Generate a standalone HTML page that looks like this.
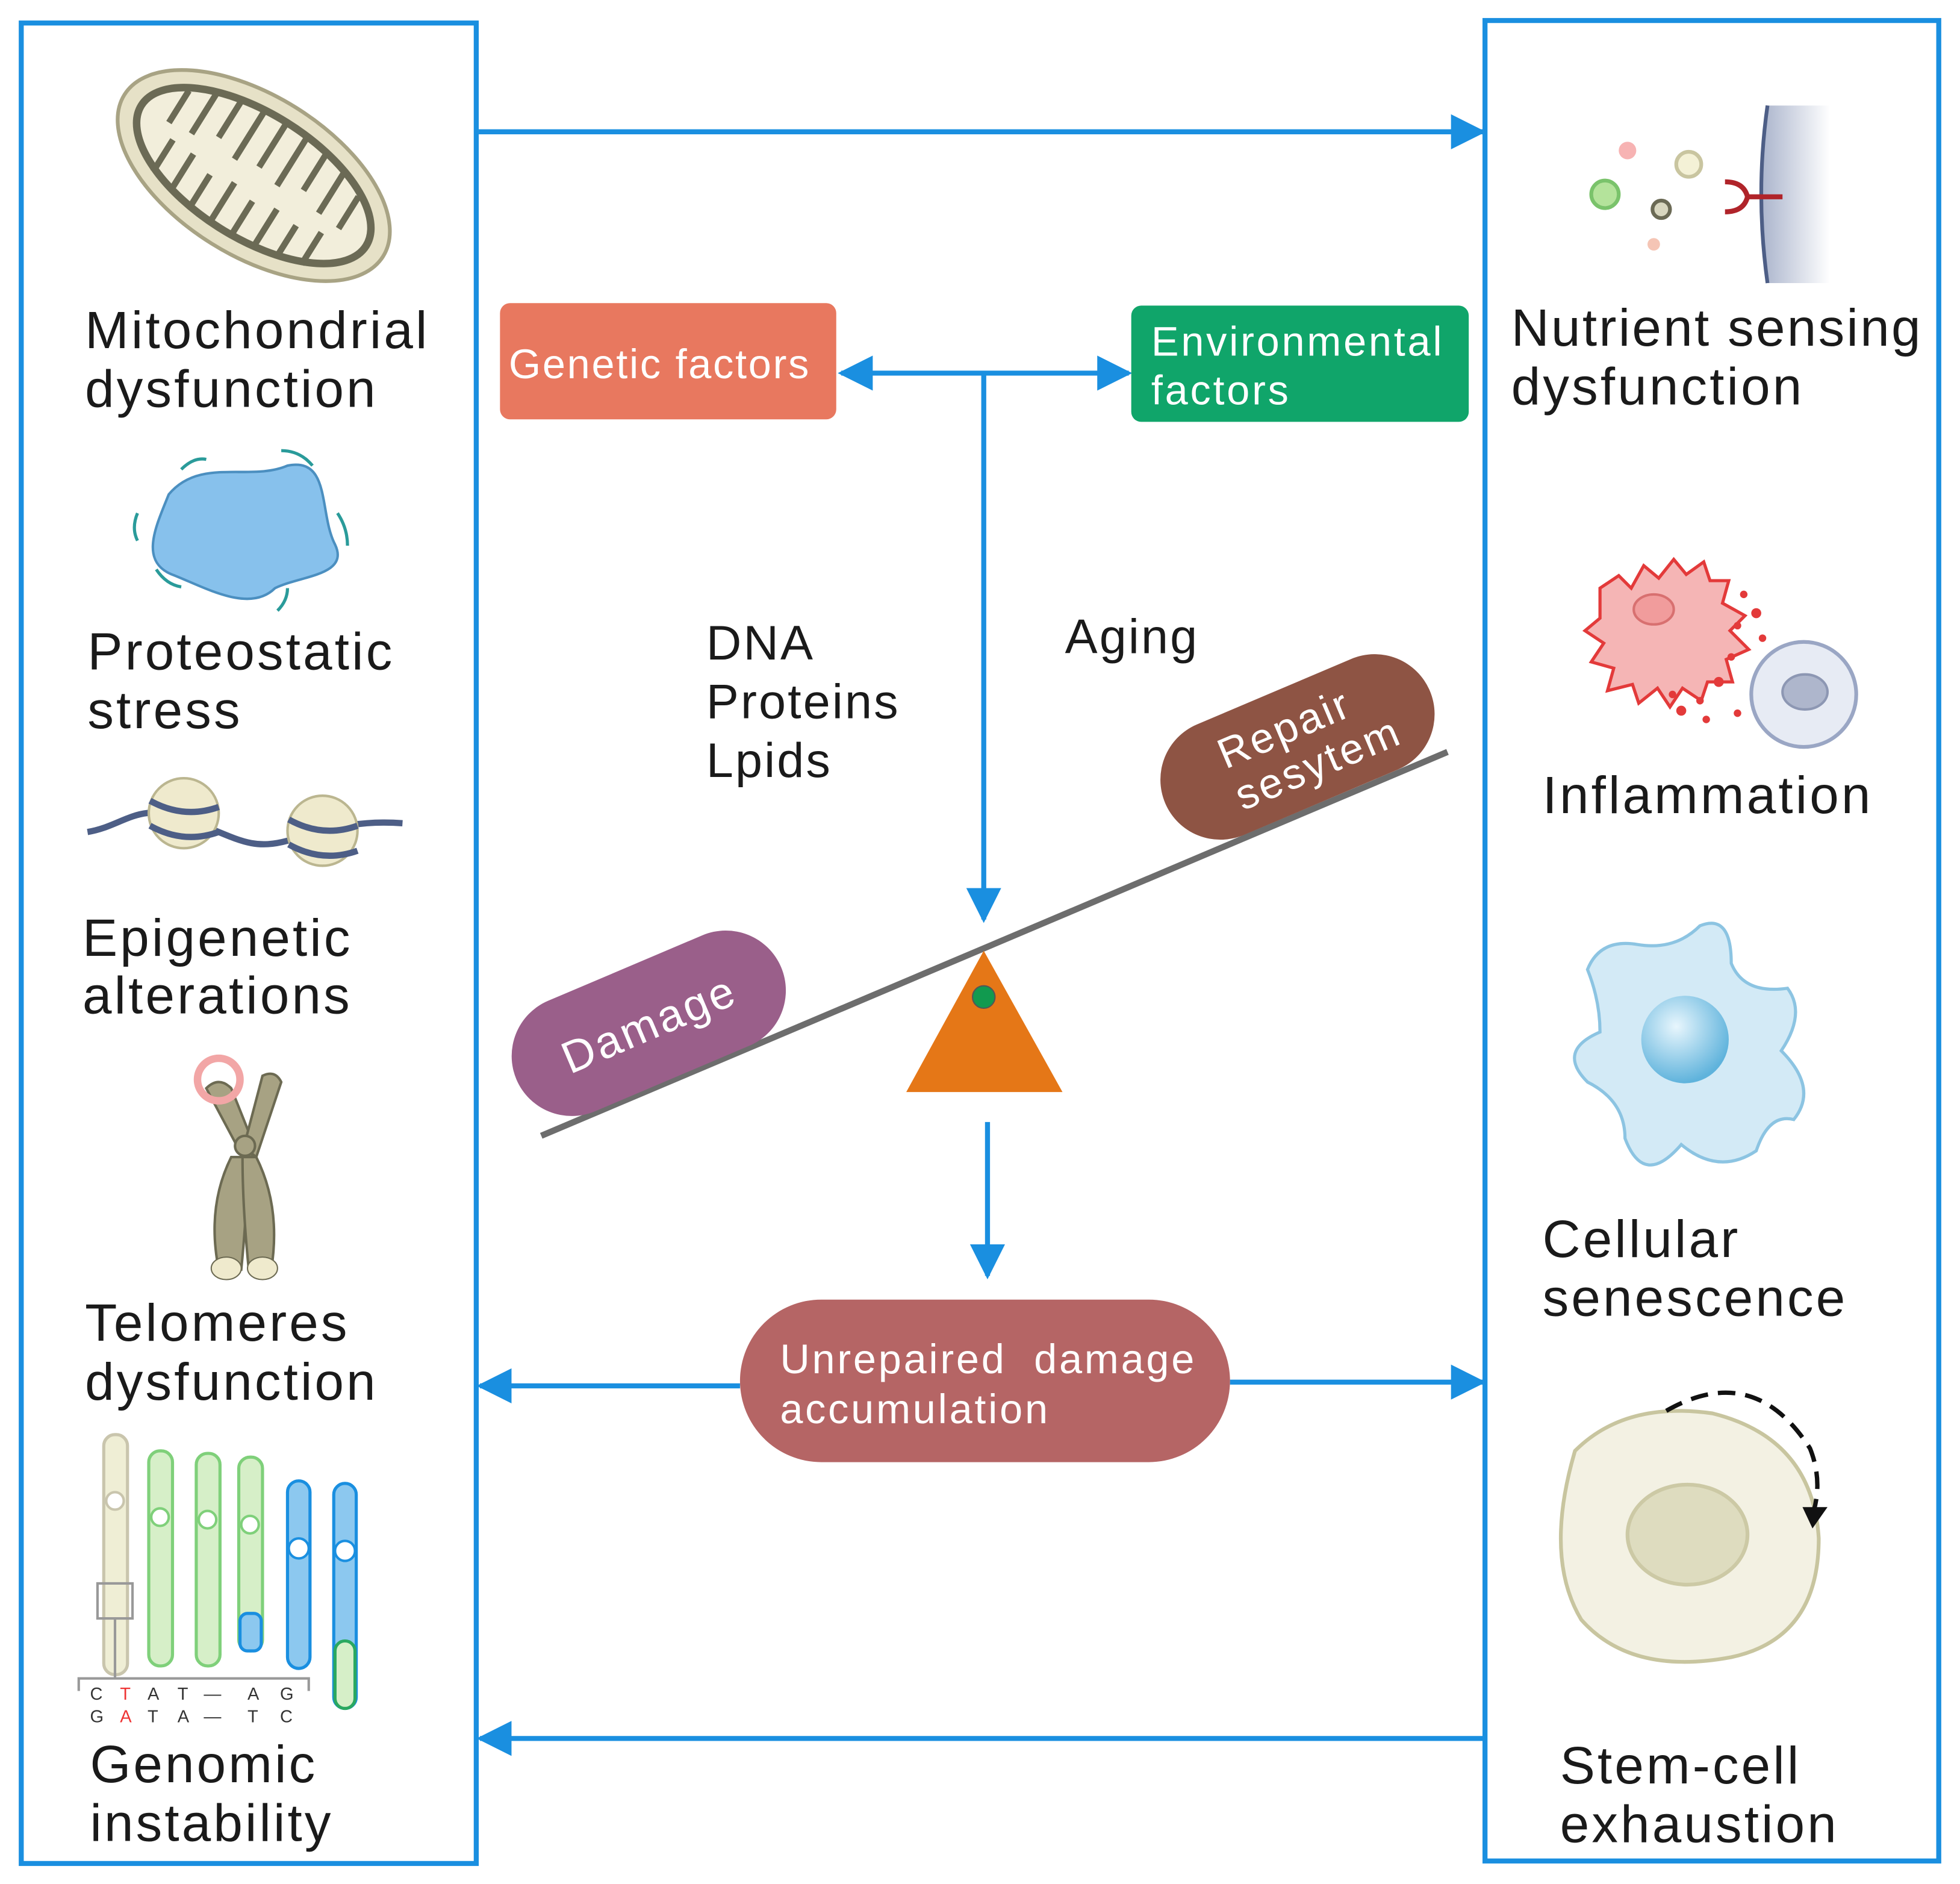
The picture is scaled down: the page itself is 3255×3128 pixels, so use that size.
<!DOCTYPE html>
<html><head><meta charset="utf-8"><style>
html,body{margin:0;padding:0;background:#fff;}
svg{display:block;}
text{font-family:"Liberation Sans",sans-serif;}
</style></head><body>
<svg width="3255" height="3128" viewBox="0 0 1568 1506" xmlns="http://www.w3.org/2000/svg">
<defs>
<marker id="ah" viewBox="0 0 10 10" refX="9" refY="5" markerWidth="7" markerHeight="7.5" markerUnits="strokeWidth" orient="auto-start-reverse"><path d="M0,0 L10,5 L0,10 z" fill="#1a8fe0"/></marker>
<radialGradient id="nuc" cx="40%" cy="35%" r="65%"><stop offset="0" stop-color="#e8f6fd"/><stop offset="1" stop-color="#5fb3dc"/></radialGradient>
<linearGradient id="mem" x1="0" x2="1"><stop offset="0" stop-color="#aab4cc"/><stop offset="1" stop-color="#fff"/></linearGradient>
</defs>
<rect x="0" y="0" width="1568" height="1506" fill="#fff"/>
<rect x="17" y="18" width="364" height="1472" fill="none" stroke="#1a8fe0" stroke-width="4"/>
<rect x="1188" y="16" width="363" height="1472" fill="none" stroke="#1a8fe0" stroke-width="4"/>
<g stroke="#1a8fe0" stroke-width="4" fill="none">
<line x1="383" y1="105" x2="1186" y2="105" marker-end="url(#ah)"/>
<line x1="673" y1="298" x2="903" y2="298" marker-start="url(#ah)" marker-end="url(#ah)"/>
<line x1="787" y1="298" x2="787" y2="735" marker-end="url(#ah)"/>
<line x1="790" y1="897" x2="790" y2="1020" marker-end="url(#ah)"/>
<line x1="592" y1="1108" x2="384" y2="1108" marker-end="url(#ah)"/>
<line x1="984" y1="1105" x2="1186" y2="1105" marker-end="url(#ah)"/>
<line x1="1188" y1="1390" x2="384" y2="1390" marker-end="url(#ah)"/>
</g>
<rect x="400" y="242" width="269" height="93" rx="8" fill="#e8785f"/>
<text x="407" y="302" font-size="33" fill="#fff" letter-spacing="1.3">Genetic factors</text>
<rect x="905" y="244" width="270" height="93" rx="8" fill="#10a56a"/>
<text x="921" y="284" font-size="33" fill="#fff" letter-spacing="1.8">Environmental</text>
<text x="921" y="323" font-size="33" fill="#fff" letter-spacing="1.8">factors</text>
<text font-size="39" fill="#1a1a1a" letter-spacing="1.5"><tspan x="565" y="527">DNA</tspan><tspan x="565" y="574">Proteins</tspan><tspan x="565" y="621">Lpids</tspan></text>
<text x="852" y="522" font-size="39" fill="#1a1a1a" letter-spacing="1.5">Aging</text>
<line x1="433" y1="908" x2="1158" y2="601" stroke="#6d6d6d" stroke-width="5"/>
<g transform="translate(519,818) rotate(-23)"><rect x="-115" y="-48" width="230" height="96" rx="48" fill="#9a5f8a"/><text x="0" y="13" font-size="36" fill="#fff" text-anchor="middle" letter-spacing="2">Damage</text></g>
<g transform="translate(1038,597) rotate(-23)"><rect x="-115" y="-48" width="230" height="96" rx="48" fill="#8e5444"/><text x="-4" y="-6" font-size="34" fill="#fff" text-anchor="middle" letter-spacing="2">Repair</text><text x="10" y="30" font-size="34" fill="#fff" text-anchor="middle" letter-spacing="2">sesytem</text></g>
<polygon points="787,760 725,873 850,873" fill="#e57717"/>
<circle cx="787" cy="797" r="9" fill="#119a4f" stroke="#555" stroke-width="1"/>
<rect x="592" y="1039" width="392" height="130" rx="65" fill="#b56565"/>
<text x="624" y="1098" font-size="33" fill="#fff" letter-spacing="1.8" xml:space="preserve">Unrepaired  damage</text>
<text x="624" y="1138" font-size="33" fill="#fff" letter-spacing="1.8">accumulation</text>
<g font-size="42" fill="#1a1a1a" letter-spacing="2">
<text x="68" y="278">Mitochondrial</text><text x="68" y="325">dysfunction</text>
<text x="70" y="535">Proteostatic</text><text x="70" y="582">stress</text>
<text x="66" y="764">Epigenetic</text><text x="66" y="810">alterations</text>
<text x="68" y="1072">Telomeres</text><text x="68" y="1119">dysfunction</text>
<text x="72" y="1425">Genomic</text><text x="72" y="1472">instability</text>
<text x="1209" y="276" letter-spacing="1.6">Nutrient sensing</text><text x="1209" y="323">dysfunction</text>
<text x="1234" y="650">Inflammation</text>
<text x="1234" y="1005">Cellular</text><text x="1234" y="1052">senescence</text>
<text x="1248" y="1426">Stem-cell</text><text x="1248" y="1473">exhaustion</text>
</g>
<g transform="translate(203,140) rotate(32)">
<ellipse rx="122" ry="64" fill="#e6e1c7" stroke="#a8a384" stroke-width="3"/>
<ellipse rx="106" ry="50" fill="#f2eedb" stroke="#6b6a55" stroke-width="6"/>
<g stroke="#6b6a55" stroke-width="5" fill="none">
<path d="M-80,-30 v30 M-60,-42 v40 M-40,-46 v35 M-20,-48 v45 M0,-48 v40 M20,-48 v45 M40,-46 v35 M60,-42 v40 M80,-30 v30"/>
<path d="M-70,40 v-30 M-50,46 v-35 M-30,48 v-30 M-10,48 v-35 M10,48 v-30 M30,48 v-35 M50,46 v-30 M70,40 v-30"/>
</g></g>
<path d="M135,395 C160,365 200,385 230,372 C265,365 255,410 268,435 C280,460 240,460 220,470 C200,490 165,470 140,460 C110,450 125,420 135,395 z" fill="#87c1ec" stroke="#4b8fc0" stroke-width="2"/>
<g stroke="#2a9b9a" stroke-width="2.5" fill="none"><path d="M145,375 q10,-10 20,-8"/><path d="M225,360 q15,0 25,12"/><path d="M270,410 q8,12 8,26"/><path d="M110,410 q-5,12 0,22"/><path d="M125,455 q8,12 20,14"/><path d="M230,470 q0,10 -8,18"/></g>
<path d="M70,665 C100,660 110,640 150,655 C190,670 200,680 230,672 C260,665 280,655 322,658" stroke="#4d5e86" stroke-width="5" fill="none"/>
<circle cx="147" cy="650" r="28" fill="#efeacd" stroke="#bbb690" stroke-width="2"/>
<circle cx="258" cy="664" r="28" fill="#efeacd" stroke="#bbb690" stroke-width="2"/>
<g stroke="#4d5e86" stroke-width="5" fill="none"><path d="M120,640 q27,15 55,5"/><path d="M120,660 q27,15 55,5"/><path d="M231,655 q27,15 55,5"/><path d="M231,675 q27,15 55,5"/></g>
<g fill="#a7a283" stroke="#6c6a52" stroke-width="2">
<path d="M165,870 q10,-10 20,0 l20,50 -8,10 z"/><path d="M210,860 q10,-5 15,5 l-20,60 -10,-8 z"/>
<path d="M185,925 q-20,40 -10,90 h18 q5,-50 5,-90 z"/><path d="M205,925 q20,40 12,90 h-18 q-5,-50 -5,-90 z"/>
<circle cx="196" cy="916" r="8"/>
</g>
<ellipse cx="181" cy="1014" rx="12" ry="9" fill="#efeacd" stroke="#6c6a52"/><ellipse cx="210" cy="1014" rx="12" ry="9" fill="#efeacd" stroke="#6c6a52"/>
<circle cx="175" cy="863" r="17" fill="none" stroke="#f2a6a6" stroke-width="6"/>
<g stroke-width="2.5">
<rect x="83" y="1147" width="19" height="192" rx="9" fill="#efeed5" stroke="#c9c5ad"/>
<rect x="119" y="1160" width="19" height="172" rx="9" fill="#d6efc8" stroke="#7fd07a"/>
<rect x="157" y="1162" width="19" height="170" rx="9" fill="#d6efc8" stroke="#7fd07a"/>
<rect x="191" y="1165" width="19" height="155" rx="9" fill="#d6efc8" stroke="#7fd07a"/>
<rect x="192" y="1290" width="17" height="30" rx="6" fill="#8cc8ef" stroke="#1a8fe0"/>
<rect x="230" y="1184" width="18" height="150" rx="9" fill="#8cc8ef" stroke="#1a8fe0"/>
<rect x="267" y="1186" width="18" height="180" rx="9" fill="#8cc8ef" stroke="#1a8fe0"/>
<rect x="268" y="1312" width="16" height="54" rx="8" fill="#d6efc8" stroke="#2aa860"/>
</g>
<g fill="#fff" stroke-width="2"><circle cx="92" cy="1200" r="7" stroke="#c9c5ad"/><circle cx="128" cy="1213" r="7" stroke="#7fd07a"/><circle cx="166" cy="1215" r="7" stroke="#7fd07a"/><circle cx="200" cy="1219" r="7" stroke="#7fd07a"/><circle cx="239" cy="1238" r="8" stroke="#1a8fe0"/><circle cx="276" cy="1240" r="8" stroke="#1a8fe0"/></g>
<rect x="78" y="1266" width="28" height="28" fill="none" stroke="#999" stroke-width="2"/>
<path d="M92,1294 v48 M63,1352 v-10 h184 v10" stroke="#999" stroke-width="2" fill="none"/>
<g font-size="14" fill="#333"><text x="72" y="1359">C</text><text x="96" y="1359" fill="#e33">T</text><text x="118" y="1359">A</text><text x="142" y="1359">T</text><text x="163" y="1359">—</text><text x="198" y="1359">A</text><text x="224" y="1359">G</text>
<text x="72" y="1377">G</text><text x="96" y="1377" fill="#e33">A</text><text x="118" y="1377">T</text><text x="142" y="1377">A</text><text x="163" y="1377">—</text><text x="198" y="1377">T</text><text x="224" y="1377">C</text></g>
<path d="M1414,84 q-10,70 0,142 h50 v-142 z" fill="url(#mem)"/>
<path d="M1414,84 q-10,70 0,142" stroke="#4d5e86" stroke-width="3" fill="none"/>
<path d="M1380,145 q15,0 18,12 q-3,12 -18,12 M1398,157 h28" stroke="#b0242a" stroke-width="4" fill="none"/>
<circle cx="1302" cy="120" r="7" fill="#f7b3b3"/><circle cx="1351" cy="131" r="10" fill="#f4f1d6" stroke="#c9c5a0" stroke-width="3"/><circle cx="1284" cy="155" r="11" fill="#b4e39b" stroke="#7ac36b" stroke-width="3"/><circle cx="1329" cy="167" r="7" fill="#d8d6bf" stroke="#6b6a55" stroke-width="3"/><circle cx="1323" cy="195" r="5" fill="#f5c5b5"/>
<path d="M1280,470 l15,-10 10,10 10,-18 12,10 12,-15 10,12 14,-10 5,15 15,0 -5,18 18,10 -12,12 15,15 -18,8 5,18 -20,0 -5,15 -15,-10 -10,15 -10,-15 -15,12 -5,-15 -20,5 5,-18 -18,-5 10,-15 -15,-10 12,-10 z" fill="#f5b5b5" stroke="#e33a3a" stroke-width="2.5"/>
<ellipse cx="1323" cy="487" rx="16" ry="12" fill="#f19c9c" stroke="#d87070" stroke-width="2"/>
<g fill="#e33a3a"><circle cx="1395" cy="475" r="3"/><circle cx="1405" cy="490" r="4"/><circle cx="1390" cy="500" r="3"/><circle cx="1410" cy="510" r="3"/><circle cx="1385" cy="525" r="3"/><circle cx="1375" cy="545" r="4"/><circle cx="1360" cy="560" r="3"/><circle cx="1345" cy="568" r="4"/><circle cx="1365" cy="575" r="3"/><circle cx="1390" cy="570" r="3"/><circle cx="1338" cy="555" r="3"/></g>
<circle cx="1443" cy="555" r="42" fill="#e7ebf4" stroke="#9aa6c4" stroke-width="3"/>
<ellipse cx="1444" cy="553" rx="18" ry="14" fill="#aeb6cc" stroke="#8d97b3" stroke-width="2"/>
<path d="M1270,775 q10,-25 40,-20 q30,5 50,-15 q25,-10 25,30 q10,25 45,20 q15,20 -5,50 q30,30 10,55 q-20,-5 -30,25 q-30,20 -60,-5 q-30,35 -45,-5 q0,-30 -30,-45 q-25,-25 10,-40 q0,-25 -10,-50 z" fill="#d3eaf6" stroke="#8cc4e2" stroke-width="2.5"/>
<circle cx="1348" cy="831" r="35" fill="url(#nuc)"/>
<path d="M1260,1160 q40,-40 110,-30 q80,20 85,100 q0,80 -70,95 q-80,15 -120,-30 q-30,-50 -5,-135 z" fill="#f3f1e3" stroke="#c8c59f" stroke-width="3"/>
<ellipse cx="1350" cy="1227" rx="48" ry="40" fill="#dedcbf" stroke="#ccc9a5" stroke-width="3"/>
<path d="M1333,1128 q70,-40 115,30 q10,25 3,50" stroke="#111" stroke-width="3.5" stroke-dasharray="14,8" fill="none"/>
<polygon points="1442,1205 1462,1205 1450,1222" fill="#111"/>
</svg>
</body></html>
